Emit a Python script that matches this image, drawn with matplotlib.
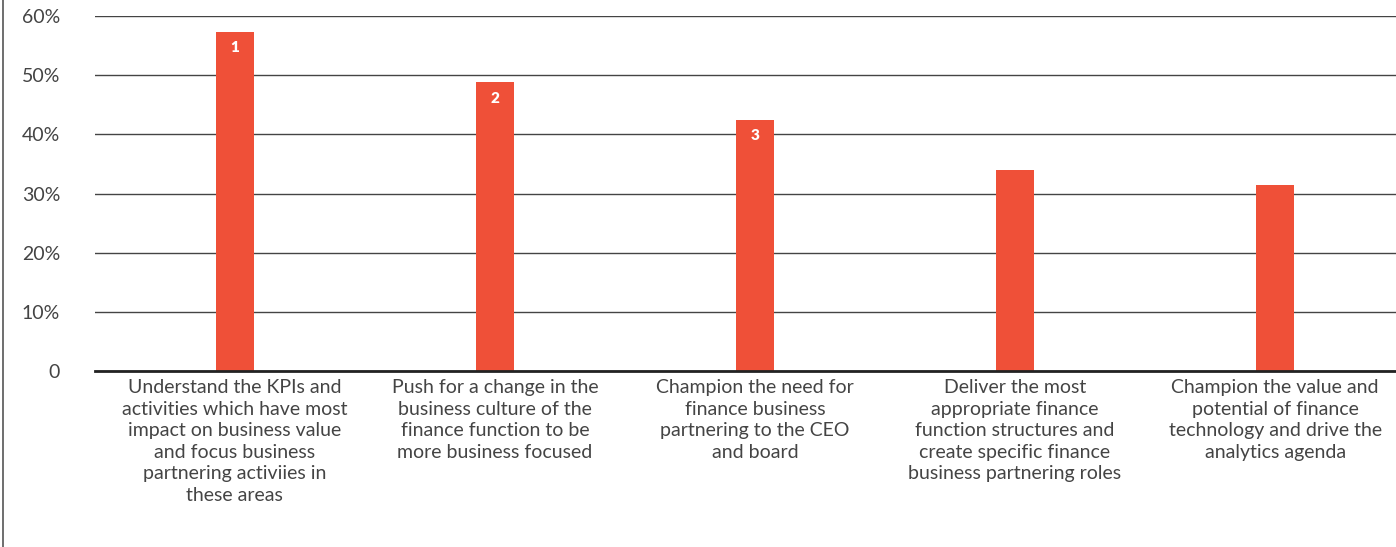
import matplotlib.pyplot as plt
from matplotlib.lines import Line2D

categories = [
    "Understand the KPIs and\nactivities which have most\nimpact on business value\nand focus business\npartnering activiies in\nthese areas",
    "Push for a change in the\nbusiness culture of the\nfinance function to be\nmore business focused",
    "Champion the need for\nfinance business\npartnering to the CEO\nand board",
    "Deliver the most\nappropriate finance\nfunction structures and\ncreate specific finance\nbusiness partnering roles",
    "Champion the value and\npotential of finance\ntechnology and drive the\nanalytics agenda",
]
values = [57.3, 48.8, 42.5, 34, 31.5]
ranks = ["1", "2", "3", "", ""]
yticks = [0, 10, 20, 30, 40, 50, 60]
ytick_labels = ["0", "10%", "20%", "30%", "40%", "50%", "60%"]

plt.rcParams['font.family'] = ['Lato', 'DejaVu Sans']

fig = plt.figure(figsize=(13.96, 5.47), dpi=100)
ax = fig.add_axes([0.068, 0.3218, 0.932, 0.6489])

x = range(len(values))
bars = ax.bar(x, values, width=38 / 260, color='#ef5038', zorder=3)

for b, r in zip(bars, ranks):
    if r:
        ax.annotate(r, (b.get_x() + b.get_width() / 2, b.get_height()),
                    xytext=(0, -11.5), textcoords='offset points',
                    ha='center', va='center', color='white',
                    fontsize=11, fontweight='heavy', zorder=4)

ax.set_xlim(-0.538, 4.465)
ax.set_ylim(0, 60)
ax.set_yticks(yticks)
ax.set_yticklabels(ytick_labels, fontsize=14, color='#444444')
ax.set_xticks(list(x))
ax.set_xticklabels(categories, fontsize=14, color='#444444', linespacing=1.32)
ax.tick_params(axis='y', length=0, pad=25)
ax.tick_params(axis='x', length=0, pad=6)

ax.yaxis.grid(True, color='#444444', linewidth=1, zorder=1)
for s in ['top', 'right', 'left']:
    ax.spines[s].set_visible(False)
ax.spines['bottom'].set_color('#222222')
ax.spines['bottom'].set_linewidth(2)
ax.spines['bottom'].set_zorder(4)

fig.add_artist(Line2D([0.0025, 0.0025], [0, 1], transform=fig.transFigure,
                      color='#555555', linewidth=1.2))

fig.savefig('out.png', dpi=100)
